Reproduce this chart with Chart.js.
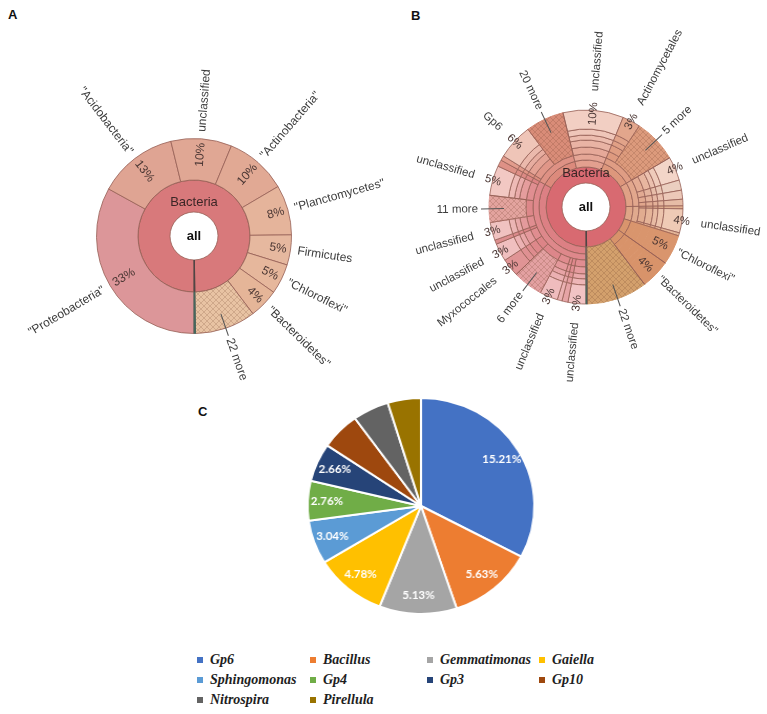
<!DOCTYPE html>
<html>
<head>
<meta charset="utf-8">
<script src="https://cdn.jsdelivr.net/npm/chart.js@4.4.1/dist/chart.umd.min.js"></script>
<style>
  body { margin: 0; background: #fff; width: 767px; height: 714px; position: relative; overflow: hidden; font-family: "Liberation Sans", Arial, sans-serif; }
  canvas { position: absolute; }
  .tag { position: absolute; font-weight: bold; font-size: 13px; color: #111; }
  #legendC { position: absolute; left: 197px; top: 650px; display: grid; grid-template-columns: 113px 117px 112px auto; grid-auto-rows: 20px;
    font: italic bold 14px "Liberation Serif", serif; color: #1e1e1e; }
  #legendC div { display: flex; align-items: center; white-space: nowrap; }
  #legendC span { display: inline-block; width: 6px; height: 6px; margin-right: 7px; }
</style>
</head>
<body>
<div class="tag" style="left:8px;top:7px">A</div>
<div class="tag" style="left:411px;top:8px">B</div>
<div class="tag" style="left:198px;top:404px">C</div>
<canvas id="chartA" width="400" height="400" style="left:0;top:0"></canvas>
<canvas id="chartB" width="382" height="400" style="left:385px;top:0"></canvas>
<canvas id="chartC" width="440" height="250" style="left:190px;top:380px;width:462px;height:250px"></canvas>
<div id="legendC"></div>
<script>
// ---------- data ----------
const rootLabel = 'all';
const kingdomLabel = 'Bacteria';

// phylum level (panel A, and the phylum ring of panel B)
const phyla = ['"Proteobacteria"', '"Acidobacteria"', 'unclassified', '"Actinobacteria"',
  '"Planctomycetes"', 'Firmicutes', '"Chloroflexi"', '"Bacteroidetes"', '22 more'];
const phylaValues = [33.1, 13.2, 10.1, 10.3, 8.3, 5, 5, 4.9, 10.1];
const phylaPct = ['33%', '13%', '10%', '10%', '8%', '5%', '5%', '4%', ''];
const phylaColorsA = ['#dc9699', '#dfa493', '#e0a794', '#e1a994', '#e5b49b', '#e6b89f', '#e6b79c', '#e5b598', '#e8c3a3'];
const phylaColorsB = ['#dc8084', '#dc8a7c', '#e3a08f', '#dd977c', '#e0a186', '#dea587', '#d9956d', '#d8936a', '#d3a06c'];

// deepest level shown in panel B (clockwise from the bottom)
const leafNamesB = ['unclassified', '', '', 'unclassified', '6 more', 'Myxococcales', 'unclassified', '', 'unclassified', '11 more', 'unclassified', '',
  '', 'Gp6', '20 more',
  'unclassified',
  'Actinomycetales', '5 more',
  'unclassified', '', '', '',
  '', 'unclassified', '',
  '"Chloroflexi"', '"Bacteroidetes"', '22 more'];
const leafValuesB = [3, 1, 0.8, 3, 5, 3, 3, 0.7, 3, 4.5, 5, 1.1,
  0.8, 6, 6.4,
  10.1,
  3, 7.3,
  4, 1.7, 1.5, 1.1,
  0.5, 4, 0.5,
  5, 4.9, 10.1];
const leafPctB = ['3%', '', '', '3%', '', '3%', '3%', '', '3%', '', '5%', '',
  '', '6%', '',
  '10%',
  '3%', '',
  '4%', '', '', '',
  '', '4%', '',
  '5%', '4%', ''];
const leafPhylumB = [0, 0, 0, 0, 0, 0, 0, 0, 0, 0, 0, 0, 1, 1, 1, 2, 3, 3, 4, 4, 4, 4, 5, 5, 5, 6, 7, 8];
// ring (0 = phylum ring) from which a node is drawn as one block
const leafSolidFromB = [99, 99, 99, 99, 3, 99, 99, 99, 99, 3, 99, 99,
  99, 99, 2,
  99,
  99, 2,
  99, 99, 99, 99,
  99, 99, 99,
  1, 1, 0];
const leafColorsB = ['#f2c3c4', '#e6a4a6', '#eab1b2', '#efbcbd', '#e3a0a1', '#e09495', '#f0bfbf', '#dc8e8e', '#f0c2c0', '#e3a39e', '#f2c8c3', '#de9186',
  '#e29c8c', '#efc5b8', '#d98c78',
  '#f2cfc3',
  '#e2a68c', '#dc9a7c',
  '#f3d5c8', '#ebcfc0', '#ecc8b8', '#e6bca6',
  '#e1b192', '#efcab5', '#e3b597',
  '#d9956d', '#d8936a', '#d3a06c'];
const otherValue = 0.25; // thin non-bacterial sliver at the bottom

// panel C
const cLabels = ['Gp6', 'Bacillus', 'Gemmatimonas', 'Gaiella', 'Sphingomonas', 'Gp4', 'Gp3', 'Gp10', 'Nitrospira', 'Pirellula'];
const cValues = [15.21, 5.63, 5.13, 4.78, 3.04, 2.76, 2.66, 2.6, 2.4, 2.2];
const cColors = ['#4472c4', '#ed7d31', '#a5a5a5', '#ffc000', '#5b9bd5', '#70ad47', '#264478', '#9e480e', '#636363', '#997300'];
const labelledSlices = 7;

// ---------- helpers ----------
const edgeColor = 'rgba(150,95,85,0.8)';
const sliverColor = '#46665c';
const textFont = '"Liberation Sans", Arial, sans-serif';

function hatch(color) {
  const c = document.createElement('canvas');
  c.width = 6; c.height = 6;
  const g = c.getContext('2d');
  g.fillStyle = color;
  g.fillRect(0, 0, 6, 6);
  g.strokeStyle = 'rgba(110,60,40,0.2)';
  g.lineWidth = 1;
  g.beginPath();
  g.moveTo(0, 0); g.lineTo(6, 6);
  g.moveTo(6, 0); g.lineTo(0, 6);
  g.stroke();
  return g.createPattern(c, 'repeat');
}

function mix(c1, c2, t) {
  const p = c => [1, 3, 5].map(i => parseInt(c.slice(i, i + 2), 16));
  const a = p(c1), b = p(c2);
  return 'rgb(' + a.map((v, i) => Math.round(v + (b[i] - v) * t)).join(',') + ')';
}

// redraw the dark edges of nodes that are filled as one block
const solidEdges = {
  id: 'solidEdges',
  afterDatasetsDraw(chart) {
    const ctx = chart.ctx;
    ctx.save();
    ctx.strokeStyle = edgeColor;
    ctx.lineWidth = 1;
    chart.data.datasets.forEach((ds, i) => {
      if (!ds.solid) return;
      chart.getDatasetMeta(i).data.forEach((arc, j) => {
        if (!ds.solid[j]) return;
        const p = arc.getProps(['x', 'y', 'startAngle', 'endAngle', 'innerRadius', 'outerRadius']);
        ctx.beginPath();
        [p.startAngle, p.endAngle].forEach(a => {
          ctx.moveTo(p.x + Math.cos(a) * p.innerRadius, p.y + Math.sin(a) * p.innerRadius);
          ctx.lineTo(p.x + Math.cos(a) * p.outerRadius, p.y + Math.sin(a) * p.outerRadius);
        });
        if (ds.solidStart[j]) {
          ctx.moveTo(p.x + Math.cos(p.startAngle) * p.innerRadius, p.y + Math.sin(p.startAngle) * p.innerRadius);
          ctx.arc(p.x, p.y, p.innerRadius, p.startAngle, p.endAngle);
        }
        ctx.stroke();
      });
    });
    ctx.restore();
  }
};

// radial Krona-style labels: percentage inside the rim, name outside
function kronaLabels(names, pcts, size, shift) {
  return {
    id: 'kronaLabels',
    afterDraw(chart) {
      const ctx = chart.ctx;
      const arcs = chart.getDatasetMeta(0).data;
      ctx.save();
      ctx.font = size + 'px ' + textFont;
      ctx.textBaseline = 'middle';
      ctx.lineWidth = 1;
      ctx.strokeStyle = '#555';
      names.forEach((name, i) => {
        if (!name) return;
        const a = arcs[i].getProps(['x', 'y', 'startAngle', 'endAngle', 'outerRadius']);
        const mid = (a.startAngle + a.endAngle) / 2;
        const R = a.outerRadius;
        const right = Math.cos(mid) >= 0;
        const s = right ? 1 : -1;
        ctx.save();
        ctx.translate(a.x, a.y);
        ctx.rotate(right ? mid : mid + Math.PI);
        ctx.fillStyle = '#3d3d3d';
        if (name.endsWith('more')) {
          ctx.beginPath();
          ctx.moveTo(s * (R - 15), 0);
          ctx.lineTo(s * (R + 8), 0);
          ctx.stroke();
          ctx.textAlign = right ? 'left' : 'right';
          ctx.fillText(name, s * (R + 11), 0);
        } else {
          const d = shift(i);
          ctx.textAlign = right ? 'left' : 'right';
          ctx.fillText(name, s * (R + 7 + d), 0);
          ctx.fillStyle = '#4a3633';
          ctx.textAlign = right ? 'right' : 'left';
          ctx.fillText(pcts[i], s * (R - 4 + d), 0);
        }
        ctx.restore();
      });
      const core = chart.getDatasetMeta(chart.data.datasets.length - 1).data[0].getProps(['x', 'y', 'innerRadius']);
      ctx.textAlign = 'center';
      ctx.fillStyle = '#111';
      ctx.font = 'bold 13px ' + textFont;
      ctx.fillText(rootLabel, core.x, core.y);
      ctx.fillStyle = '#3b2626';
      ctx.font = '13px ' + textFont;
      ctx.fillText(kingdomLabel, core.x, core.y - core.innerRadius - 10);
      ctx.restore();
    }
  };
}

const baseOptions = {
  responsive: false,
  animation: false,
  events: [],
  rotation: 180,
  plugins: { legend: { display: false }, tooltip: { enabled: false } }
};

// ---------- panel A ----------
new Chart(document.getElementById('chartA'), {
  type: 'doughnut',
  data: {
    labels: [...phyla, ''],
    datasets: [{
      data: [...phylaValues, otherValue],
      backgroundColor: [...phylaColorsA.map((c, i) => phyla[i].endsWith('more') ? hatch(c) : c), sliverColor],
      borderColor: [...phyla.map(() => edgeColor), sliverColor],
      borderWidth: 1,
      weight: 41.5
    }, {
      data: [100, otherValue],
      backgroundColor: ['#d8797b', '#4e4444'],
      borderColor: [edgeColor, '#4e4444'],
      borderWidth: 1,
      weight: 32
    }]
  },
  options: {
    ...baseOptions,
    radius: 97.5,
    cutout: (24 / 97.5 * 100) + '%',
    layout: { padding: { left: 94, right: 106, top: 136, bottom: 64 } }
  },
  plugins: [kronaLabels(phyla, phylaPct, 12, () => 0)]
});

// ---------- panel B ----------
const ringWidthsB = [7, 6, 7, 7, 5, 6, 19]; // ring 0 (phylum) .. ring 6 (outer)
const firstLeafRing = 2;

const nodeSolid = (j, k) => k >= leafSolidFromB[j];
const phylumSolid = (p, k) => k >= 0 && leafPhylumB.every((q, j) => q !== p || nodeSolid(j, k));

function phylumRing(k) {
  const solid = phyla.map((_, p) => phylumSolid(p, k));
  const fills = phyla.map((name, p) => {
    if (!solid[p]) return k === 0 ? phylaColorsB[p] : mix(phylaColorsB[p], '#ffffff', 0.06);
    return name.endsWith('more') ? hatch(phylaColorsB[p]) : phylaColorsB[p];
  });
  return {
    data: [...phylaValues, otherValue],
    backgroundColor: [...fills, sliverColor],
    borderColor: [...fills.map((f, p) => solid[p] ? f : edgeColor), sliverColor],
    borderWidth: 1,
    solid: [...solid, false],
    solidStart: [...solid.map((sd, p) => sd && !phylumSolid(p, k - 1)), false],
    weight: ringWidthsB[k]
  };
}

function leafRing(k) {
  const bg = [], bd = [], solid = [], start = [];
  leafValuesB.forEach((v, j) => {
    const isSolid = nodeSolid(j, k);
    const wasSolid = k - 1 >= firstLeafRing ? nodeSolid(j, k - 1) : phylumSolid(leafPhylumB[j], k - 1);
    const col = isSolid ? leafColorsB[j] : mix(phylaColorsB[leafPhylumB[j]], leafColorsB[j], (k - 1) / 5);
    const fill = isSolid && leafNamesB[j].endsWith('more') ? hatch(col) : col;
    bg.push(fill);
    bd.push(isSolid ? fill : edgeColor);
    solid.push(isSolid);
    start.push(isSolid && !wasSolid);
  });
  bg.push(sliverColor); bd.push(sliverColor); solid.push(false); start.push(false);
  return { data: [...leafValuesB, otherValue], backgroundColor: bg, borderColor: bd, borderWidth: 1,
    solid: solid, solidStart: start, weight: ringWidthsB[k] };
}

const datasetsB = [];
for (let k = 6; k >= firstLeafRing; k--) datasetsB.push(leafRing(k));
for (let k = firstLeafRing - 1; k >= 0; k--) datasetsB.push(phylumRing(k));
datasetsB.push({
  data: [100, otherValue],
  backgroundColor: ['#d86a71', '#4e4444'],
  borderColor: [edgeColor, '#4e4444'],
  borderWidth: 1,
  weight: 16
});

new Chart(document.getElementById('chartB'), {
  type: 'doughnut',
  data: { labels: [...leafNamesB, ''], datasets: datasetsB },
  options: {
    ...baseOptions,
    radius: 97,
    cutout: (24 / 97 * 100) + '%',
    layout: { padding: { left: 101, right: 81, top: 107, bottom: 93 } }
  },
  plugins: [solidEdges, kronaLabels(leafNamesB, leafPctB, 11.5, i => leafSolidFromB[i] <= 1 ? -2 : 12)]
});

// ---------- panel C ----------
const pieValueLabels = {
  id: 'pieValueLabels',
  afterDatasetsDraw(chart) {
    const ctx = chart.ctx;
    ctx.save();
    ctx.font = 'bold 11px Lato, "Open Sans", sans-serif';
    ctx.fillStyle = '#fff';
    ctx.textAlign = 'center';
    ctx.textBaseline = 'middle';
    chart.getDatasetMeta(0).data.forEach((arc, i) => {
      if (i >= labelledSlices) return;
      const p = arc.getProps(['x', 'y', 'startAngle', 'endAngle', 'outerRadius']);
      const m = (p.startAngle + p.endAngle) / 2;
      const r = p.outerRadius * 0.83;
      ctx.fillText(cValues[i].toFixed(2) + '%', p.x + Math.cos(m) * r, p.y + Math.sin(m) * r);
    });
    ctx.restore();
  }
};

new Chart(document.getElementById('chartC'), {
  type: 'pie',
  data: {
    labels: cLabels,
    datasets: [{ data: cValues, backgroundColor: cColors, borderColor: '#fff', borderWidth: 2 }]
  },
  options: {
    responsive: false,
    animation: false,
    events: [],
    radius: 108,
    layout: { padding: { left: 108, right: 108, top: 14, bottom: 12 } },
    plugins: { legend: { display: false }, tooltip: { enabled: false } }
  },
  plugins: [pieValueLabels]
});

const legend = document.getElementById('legendC');
cLabels.forEach((name, i) => {
  const item = document.createElement('div');
  const box = document.createElement('span');
  box.style.background = cColors[i];
  item.appendChild(box);
  item.appendChild(document.createTextNode(name));
  legend.appendChild(item);
});
</script>
</body>
</html>
